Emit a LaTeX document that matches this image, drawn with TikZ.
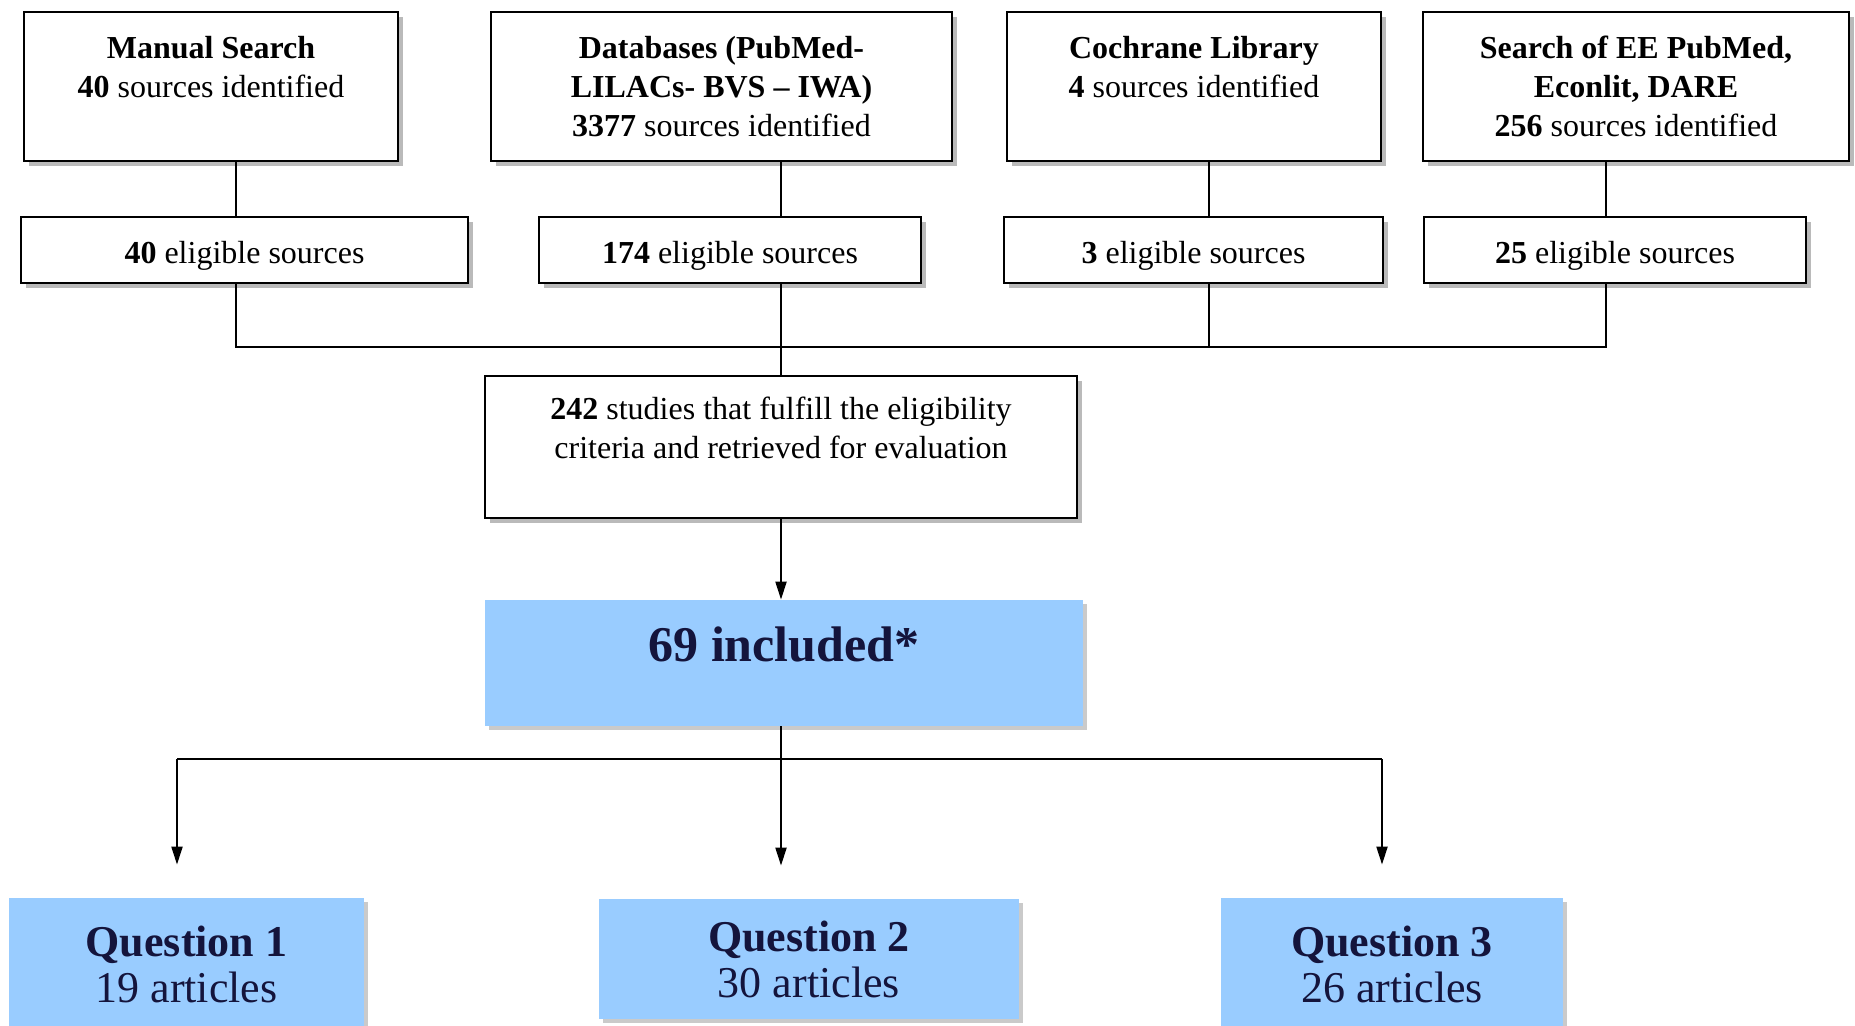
\documentclass[tikz,border=0pt]{standalone}
\usepackage{fontspec}
\setmainfont{Liberation Serif}
\usetikzlibrary{arrows.meta,shadows}
\definecolor{qblue}{RGB}{153,204,255}
\definecolor{qnavy}{RGB}{20,20,60}
\begin{document}
\begin{tikzpicture}[x=0.5pt,y=-0.5pt,
  srcbox/.style={draw,line width=1.2pt,fill=white,align=center,inner sep=0pt,
    font=\fontsize{16}{19.5}\selectfont,
    drop shadow={shadow xshift=2.5pt,shadow yshift=-2.5pt,fill=black!45,opacity=0.6}},
  elbox/.style={srcbox,minimum height=33pt,text height=17pt,text depth=3.5pt},
  resbox/.style={fill=qblue,align=center,inner sep=0pt,text=qnavy,
    drop shadow={shadow xshift=2pt,shadow yshift=-2pt,fill=black!35,opacity=0.6}},
  link/.style={line width=1pt},
  arr/.style={line width=1pt,-{Triangle[length=9pt,width=5.5pt]}}]
\useasboundingbox (0,0) rectangle (1855,1026);
\node[srcbox,minimum width=187pt,minimum height=74.5pt] (man) at (211,86.5) {\textbf{Manual Search}\\\textbf{40} sources identified\\\mbox{}};
\node[srcbox,minimum width=230.5pt,minimum height=74.5pt] (dbs) at (721.5,86.5) {\textbf{Databases (PubMed-}\\\textbf{LILACs- BVS -- IWA)}\\\textbf{3377} sources identified};
\node[srcbox,minimum width=187pt,minimum height=74.5pt] (coch) at (1194,86.5) {\textbf{Cochrane Library}\\\textbf{4} sources identified\\\mbox{}};
\node[srcbox,minimum width=213pt,minimum height=74.5pt] (econ) at (1636,86.5) {\textbf{Search of EE PubMed,}\\\textbf{Econlit, DARE}\\\textbf{256} sources identified};
\node[elbox,minimum width=223.5pt] (elman) at (244.5,250) {\textbf{40} eligible sources};
\node[elbox,minimum width=191pt] (eldbs) at (730,250) {\textbf{174} eligible sources};
\node[elbox,minimum width=189.5pt] (elcoch) at (1193.5,250) {\textbf{3} eligible sources};
\node[elbox,minimum width=191pt] (elecon) at (1615,250) {\textbf{25} eligible sources};
\node[srcbox,minimum width=296pt,minimum height=71pt] (stud) at (781,447) {\textbf{242} studies that fulfill the eligibility\\criteria and retrieved for evaluation\\\mbox{}};
\node[resbox,minimum width=299pt,minimum height=63pt,text height=18pt,text depth=19.5pt,font=\fontsize{25}{30}\selectfont\bfseries] (incl) at (784,663) {69 included*};
\node[resbox,minimum width=177.5pt,minimum height=66pt,font=\fontsize{22}{23}\selectfont] (q1) at (186.5,964) {\textbf{Question 1}\\19 articles};
\node[resbox,minimum width=210pt,minimum height=60pt,font=\fontsize{22}{23}\selectfont] (q2) at (809,959) {\textbf{Question 2}\\30 articles};
\node[resbox,minimum width=171pt,minimum height=66pt,font=\fontsize{22}{23}\selectfont] (q3) at (1392,964) {\textbf{Question 3}\\26 articles};
\coordinate (j1) at (236,347);
\coordinate (j2) at (781,347);
\coordinate (j3) at (1209,347);
\coordinate (j4) at (1606,347);
\coordinate (s1) at (177,759);
\coordinate (s2) at (781,759);
\coordinate (s3) at (1382,759);
\draw[link] (man.south -| j1) -- (elman.north -| j1);
\draw[link] (dbs.south -| j2) -- (eldbs.north -| j2);
\draw[link] (coch.south -| j3) -- (elcoch.north -| j3);
\draw[link] (econ.south -| j4) -- (elecon.north -| j4);
\draw[link] (elman.south -| j1) -- (j1) -- (j4) -- (elecon.south -| j4);
\draw[link] (eldbs.south -| j2) -- (stud.north -| j2);
\draw[link] (elcoch.south -| j3) -- (j3);
\draw[arr] (stud.south) -- (stud.south |- incl.north);
\draw[link] (incl.south -| s2) -- (s2);
\draw[link] (s1) -- (s3);
\draw[arr,shorten >=16.5pt] (s1) -- (s1 |- q1.north);
\draw[arr,shorten >=16.5pt] (s2) -- (s2 |- q2.north);
\draw[arr,shorten >=16.5pt] (s3) -- (s3 |- q3.north);
\end{tikzpicture}
\end{document}
